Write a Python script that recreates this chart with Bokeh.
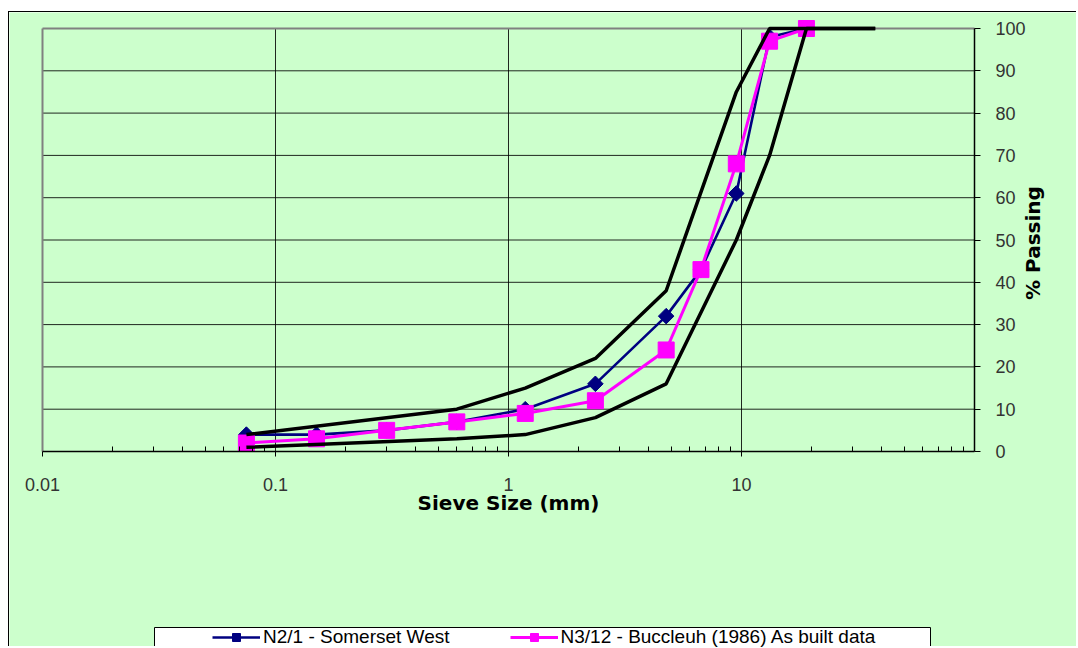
import math
from bokeh.plotting import figure
from bokeh.models import (FixedTicker, CustomJSTickFormatter, Legend, LegendItem,
                          Spacer, Range1d, BoxAnnotation, Label)
from bokeh.layouts import column, row
from bokeh.embed import file_html
from bokeh.resources import INLINE

# ---- data ----
sieve_mm = [0.075, 0.15, 0.3, 0.6, 1.18, 2.36, 4.75, 6.7, 9.5, 13.2, 19.0]
somerset_west = [4, 4, 5, 7, 10, 16, 32, 43, 61, 98, 100]
buccleuh = [2, 3, 5, 7, 9, 12, 24, 43, 68, 97, 100]

env_sieve_mm = [0.075, 0.6, 1.18, 2.36, 4.75, 9.5, 13.2, 19.0, 26.5, 37.5]
env_upper = [4, 10, 15, 22, 38, 85, 100, 100, 100, 100]
env_lower = [1, 3, 4, 8, 16, 50, 70, 100, 100, 100]

x_extent = [0.01, 100]
y_extent = [0, 100]
x_major_ticks = [0.01, 0.1, 1, 10]
x_minor_ticks = [0.02, 0.03, 0.04, 0.05, 0.06, 0.07, 0.08, 0.09,
                 0.2, 0.3, 0.4, 0.5, 0.6, 0.7, 0.8, 0.9,
                 2, 3, 4, 5, 6, 7, 8, 9,
                 20, 30, 40, 50, 60, 70, 80, 90]
x_grid_ticks = [0.1, 1, 10]
y_ticks = [0, 10, 20, 30, 40, 50, 60, 70, 80, 90, 100]
y_grid_ticks = [10, 20, 30, 40, 50, 60, 70, 80, 90]

label_blue = "N2/1 - Somerset West"
label_pink = "N3/12 - Buccleuh (1986) As built data"
x_title = "Sieve Size (mm)"
y_title = "% Passing"

BG = "#CCFFCC"

# layout constants (pixels); the frame covers the whole canvas so nothing is clipped
FIG_W, FIG_H = 1068, 635
PAD_T = 16                          # canvas space above the 100 % line
PAD_L, PAD_R = 33, 103              # canvas space left / right of the 0.01..100 area
PLOT_W, PLOT_H = 932, 423           # visible plotting area
PAD_B = FIG_H - PAD_T - PLOT_H      # canvas space below the 0 % line
DECADE = PLOT_W / 4.0
X_START = x_extent[0] * 10 ** (-PAD_L / DECADE)
X_END = x_extent[1] * 10 ** (PAD_R / DECADE)
Y_START = y_extent[0] - 100.0 * PAD_B / PLOT_H
Y_END = y_extent[1] + 100.0 * PAD_T / PLOT_H

p = figure(width=FIG_W, height=FIG_H, x_axis_type="log",
           x_range=Range1d(X_START, X_END), y_range=Range1d(Y_START, Y_END),
           y_axis_location="right", output_backend="svg", toolbar_location=None,
           min_border_left=0, min_border_right=0,
           min_border_top=0, min_border_bottom=0)
p.styles = {"border-left": "1px solid black", "border-top": "1px solid black"}
xa = p.xaxis[0]
ya = p.yaxis[0]

p.background_fill_color = BG
p.border_fill_color = BG
p.outline_line_color = None
p.xgrid.visible = False
p.ygrid.visible = False

# grid lines limited to the plotting area
hg = p.segment(x0=[x_extent[0]] * len(y_grid_ticks), y0=y_grid_ticks,
               x1=[x_extent[1]] * len(y_grid_ticks), y1=y_grid_ticks,
               line_color="#000000", line_width=1, line_alpha=0.85)
vg = p.segment(x0=x_grid_ticks, y0=[y_extent[0]] * len(x_grid_ticks),
               x1=x_grid_ticks, y1=[y_extent[1]] * len(x_grid_ticks),
               line_color="#000000", line_width=1, line_alpha=0.85)
# gray border of the plotting area (left and top)
gb = p.segment(x0=[x_extent[0], x_extent[0]], y0=[y_extent[0], y_extent[1]],
               x1=[x_extent[0], x_extent[1]], y1=[y_extent[1], y_extent[1]],
               line_color="#808080", line_width=2)
for r in (hg, vg, gb):
    r.level = "underlay"

# x axis drawn at 0 %
xa.fixed_location = y_extent[0]
xa.bounds = (x_extent[0], x_extent[1])
xa.ticker = FixedTicker(ticks=x_major_ticks, minor_ticks=x_minor_ticks)
xa.formatter = CustomJSTickFormatter(code="return tick.toString();")
xa.axis_line_color = "black"
xa.axis_line_width = 1.5
xa.major_tick_out = 5
xa.major_tick_in = 0
xa.minor_tick_in = 5
xa.minor_tick_out = 0
xa.major_tick_line_color = "black"
xa.minor_tick_line_color = "black"
xa.major_label_text_font = "Liberation Sans"
xa.major_label_text_font_size = "18px"
xa.major_label_text_color = "#333333"
xa.major_label_standoff = 21
xa.axis_label = x_title
xa.axis_label_text_font = "DejaVu Sans"
xa.axis_label_text_font_style = "bold"
xa.axis_label_text_font_size = "20px"
xa.axis_label_text_color = "black"
xa.axis_label_standoff = -3

# y axis drawn at x = 100 mm (right side of the plotting area)
ya.fixed_location = x_extent[1]
ya.bounds = (y_extent[0], y_extent[1])
ya.ticker = FixedTicker(ticks=y_ticks, minor_ticks=[])
ya.axis_line_color = "black"
ya.axis_line_width = 1.5
ya.major_tick_out = 6
ya.major_tick_in = 0
ya.major_tick_line_color = "black"
ya.major_label_text_font = "Liberation Sans"
ya.major_label_text_font_size = "18px"
ya.major_label_text_color = "#333333"
ya.major_label_standoff = 15

# y title, reading bottom-to-top, right of the tick labels
p.add_layout(Label(x=PAD_L + PLOT_W + 58, y=PAD_B + PLOT_H / 2 - 3,
                   x_units="screen", y_units="screen", text=y_title,
                   angle=math.pi / 2, text_align="center", text_baseline="middle",
                   text_font="DejaVu Sans", text_font_style="bold",
                   text_font_size="20px", text_color="black"))

# series
bl = p.line(sieve_mm, somerset_west, line_color="#000080", line_width=2.6)
bm = p.scatter(sieve_mm, somerset_west, marker="square", angle=math.pi / 4, size=11,
               fill_color="#000080", line_color="#000080")
pl = p.line(sieve_mm, buccleuh, line_color="#FF00FF", line_width=3)
pm = p.scatter(sieve_mm, buccleuh, marker="square", size=16,
               fill_color="#FF00FF", line_color="#FF00FF")
p.line(env_sieve_mm, env_upper, line_color="black", line_width=3.5)
p.line(env_sieve_mm, env_lower, line_color="black", line_width=3.5)

# legend box (cut by the bottom edge, as in the reference) + legend
p.add_layout(BoxAnnotation(left=145, right=921, top=20, bottom=-20,
                           left_units="screen", right_units="screen",
                           top_units="screen", bottom_units="screen",
                           fill_color="white", fill_alpha=1,
                           line_color="black", line_width=1, line_alpha=1))
legend = Legend(items=[LegendItem(label=label_blue, renderers=[bl, bm]),
                       LegendItem(label=label_pink, renderers=[pl, pm])],
                orientation="horizontal", location=(203, -1), margin=0,
                padding=0, spacing=60, glyph_width=48, glyph_height=20,
                label_standoff=3, label_height=20,
                label_text_font="Liberation Sans", label_text_font_size="19px",
                label_text_color="black",
                border_line_alpha=0, background_fill_alpha=0)
p.add_layout(legend)

layout = column(Spacer(height=11), row(Spacer(width=8), p))
open("out.html", "w").write(file_html(layout, INLINE))
